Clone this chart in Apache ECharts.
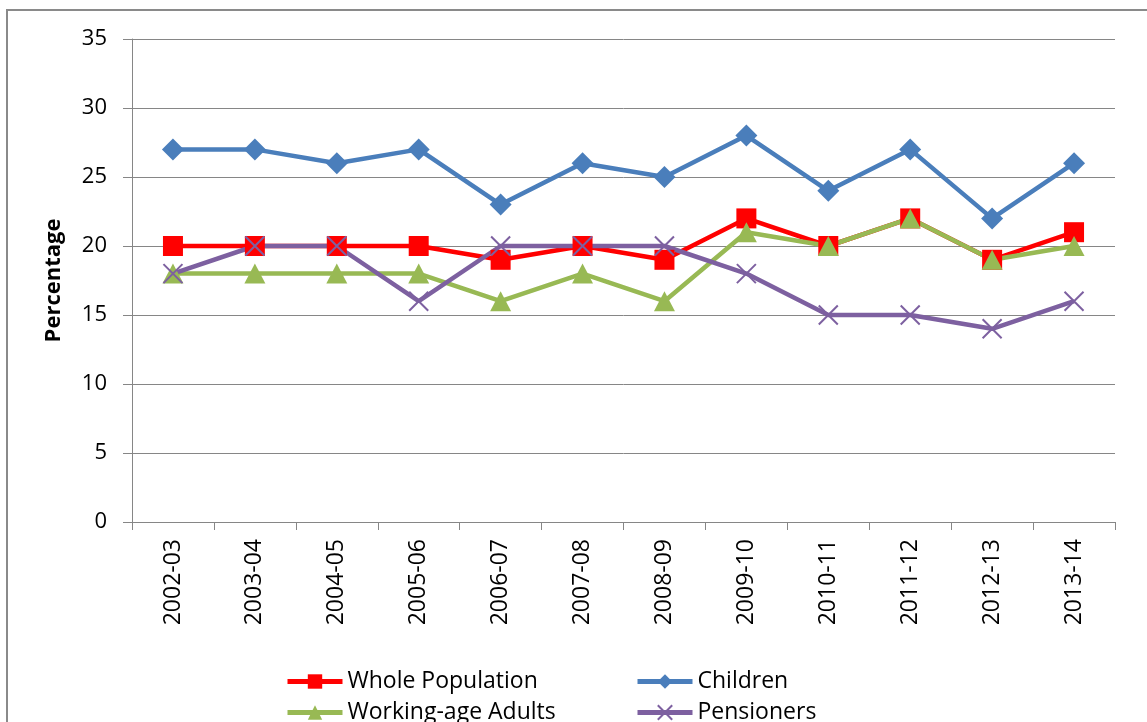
<!DOCTYPE html>
<html>
<head>
<meta charset="utf-8">
<script src="https://cdn.jsdelivr.net/npm/echarts@6/dist/echarts.min.js"></script>
<style>
  html, body { margin: 0; padding: 0; background: #fff; }
  #chart { width: 1147px; height: 722px; }
</style>
</head>
<body>
<div id="chart"></div>
<script>
// Financial years on the category axis
const years = ['2002-03', '2003-04', '2004-05', '2005-06', '2006-07', '2007-08',
               '2008-09', '2009-10', '2010-11', '2011-12', '2012-13', '2013-14'];

// Percentage of each group, per year
const wholePopulation = [20, 20, 20, 20, 19, 20, 19, 22, 20, 22, 19, 21];
const children        = [27, 27, 26, 27, 23, 26, 25, 28, 24, 27, 22, 26];
const workingAge      = [18, 18, 18, 18, 16, 18, 16, 21, 20, 22, 19, 20];
const pensioners      = [18, 20, 20, 16, 20, 20, 20, 18, 15, 15, 14, 16];

const seriesNames = ['Whole Population', 'Children', 'Working-age Adults', 'Pensioners'];

const FONT = '"Open Sans", Lato, sans-serif';
const crossPath = 'path://M0,0L10,10M10,0L0,10';

const chart = echarts.init(document.getElementById('chart'), null, { renderer: 'canvas' });

// One legend block per entry so the two columns line up
function legendItem(name, left, top) {
  return {
    data: [name],
    left: left,
    top: top,
    orient: 'horizontal',
    itemWidth: 55,
    itemHeight: 18,
    itemGap: 0,
    padding: 0,
    lineStyle: { width: 5 },
    textStyle: { fontFamily: FONT, fontSize: 23, color: '#000' },
    selectedMode: false
  };
}

chart.setOption({
  animation: false,
  backgroundColor: '#fff',
  graphic: [{
    type: 'rect',
    shape: { x: 7, y: 10, width: 1160, height: 740 },
    style: { fill: 'none', stroke: '#8a8a8a', lineWidth: 2 },
    silent: true
  }],
  grid: { left: 132, right: 32, top: 39, bottom: 200, containLabel: false },
  legend: [
    legendItem(seriesNames[0], 285, 670),
    legendItem(seriesNames[1], 635, 670),
    legendItem(seriesNames[2], 285, 701),
    legendItem(seriesNames[3], 635, 701)
  ],
  xAxis: {
    type: 'category',
    data: years,
    boundaryGap: true,
    axisLine: { show: true, lineStyle: { color: '#868686', width: 1 } },
    axisTick: { show: true, length: 8, alignWithLabel: false, lineStyle: { color: '#868686' } },
    axisLabel: {
      rotate: 90,
      margin: 17,
      fontFamily: FONT,
      fontSize: 23,
      color: '#000'
    },
    splitLine: { show: false }
  },
  yAxis: {
    type: 'value',
    min: 0,
    max: 35,
    interval: 5,
    name: 'Percentage',
    nameLocation: 'middle',
    nameGap: 67,
    nameRotate: 90,
    nameTextStyle: { fontFamily: FONT, fontSize: 22, fontWeight: 'bold', color: '#000' },
    axisLine: { show: true, lineStyle: { color: '#868686', width: 1 } },
    axisTick: { show: true, length: 9, lineStyle: { color: '#868686' } },
    axisLabel: { margin: 25, fontFamily: FONT, fontSize: 22, color: '#000' },
    splitLine: { show: true, lineStyle: { color: '#868686', width: 1 } }
  },
  series: [
    {
      name: seriesNames[0],
      type: 'line',
      data: wholePopulation,
      symbol: 'rect',
      symbolSize: 20,
      lineStyle: { color: '#FF0000', width: 4.5 },
      itemStyle: { color: '#FF0000' }
    },
    {
      name: seriesNames[1],
      type: 'line',
      data: children,
      symbol: 'diamond',
      symbolSize: [22, 22],
      lineStyle: { color: '#4A7EBB', width: 4.5 },
      itemStyle: { color: '#4A7EBB' }
    },
    {
      name: seriesNames[2],
      type: 'line',
      data: workingAge,
      symbol: 'triangle',
      symbolSize: [21, 20],
      lineStyle: { color: '#98B954', width: 4.5 },
      itemStyle: { color: '#98B954' }
    },
    {
      name: seriesNames[3],
      type: 'line',
      data: pensioners,
      symbol: crossPath,
      symbolSize: 19,
      lineStyle: { color: '#7D60A0', width: 4.5 },
      itemStyle: { color: '#7D60A0', borderColor: '#7D60A0', borderWidth: 2 }
    }
  ]
});
</script>
</body>
</html>
